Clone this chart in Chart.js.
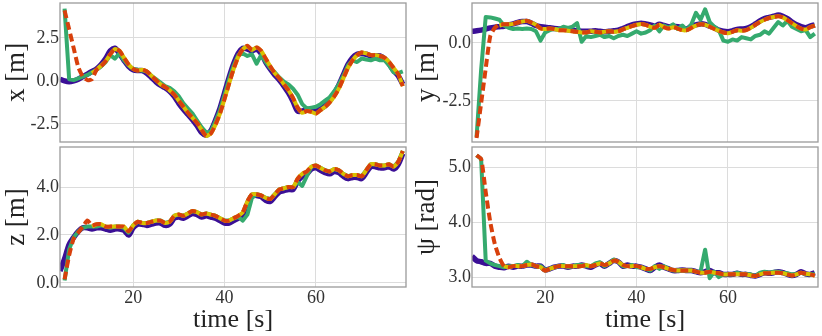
<!DOCTYPE html>
<html>
<head>
<meta charset="utf-8">
<script src="https://cdn.jsdelivr.net/npm/chart.js@4.4.1/dist/chart.umd.min.js"></script>
<style>
  html, body { margin: 0; padding: 0; background: #fff; }
  #wrap { position: relative; width: 822px; height: 336px; }
  canvas { position: absolute; }
</style>
</head>
<body>
<div id="wrap">
  <canvas id="cx" width="410" height="145" style="left:0;top:0"></canvas>
  <canvas id="cy" width="412" height="145" style="left:410px;top:0"></canvas>
  <canvas id="cz" width="410" height="191" style="left:0;top:145px"></canvas>
  <canvas id="cpsi" width="412" height="191" style="left:410px;top:145px"></canvas>
</div>
<script>
// --- Data (time in s, one sample per second) ---
const time = [4,5,6,7,8,9,10,11,12,13, 14,15,16,17,18,19,20,21,22,23, 24,25,26,27,28,29,30,31,32,33,
  34,35,36,37,38,39,40,41,42,43, 44,45,46,47,48,49,50,51,52,53, 54,55,56,57,58,59,60,61,62,63,
  64,65,66,67,68,69,70,71,72,73, 74,75,76,77,78,79];

// x [m]
const xTruth = [0.1,0.0,-0.05,0.0,0.1,0.25,0.4,0.55,0.7,0.95, 1.3,1.75,1.9,1.6,1.2,0.85,0.65,0.6,0.6,0.45,
  0.2,-0.05,-0.25,-0.4,-0.6,-0.9,-1.3,-1.65,-1.95,-2.25, -2.6,-3.0,-3.15,-2.9,-2.3,-1.6,-0.7,0.2,1.0,1.6,
  1.9,1.85,1.75,1.85,1.6,1.1,0.7,0.35,0.05,-0.3, -0.7,-1.2,-1.75,-1.75,-1.65,-1.7,-1.75,-1.6,-1.45,-1.15,
  -0.75,-0.25,0.35,0.95,1.35,1.55,1.6,1.55,1.45,1.45, 1.45,1.3,1.0,0.6,0.3,-0.2];
const xMeas = [null,4.2,0.1,0.05,0.15,0.25,0.35,0.5,0.65,0.85, 1.1,1.5,1.3,1.6,1.2,0.9,0.7,0.65,0.6,0.55,
  0.3,0.1,-0.1,-0.3,-0.4,-0.6,-0.9,-1.3,-1.6,-1.9, -2.3,-2.7,-3.0,-2.95,-2.35,-1.7,-0.8,0.1,0.9,1.5,
  1.6,1.45,1.55,1.0,1.5,1.1,0.75,0.5,0.2,-0.05, -0.2,-0.45,-0.8,-1.35,-1.6,-1.55,-1.5,-1.35,-1.15,-0.95,
  -0.6,-0.2,0.3,0.9,1.2,1.1,1.3,1.25,1.2,1.3, 1.2,1.2,0.9,0.5,0.45,0.55];
const xEstA = [null,null,null,null,null,null,null,0.45,0.65,0.9, 1.15,1.55,1.85,1.75,1.35,0.95,0.7,0.6,0.65,0.55,
  0.3,0.05,-0.2,-0.35,-0.55,-0.8,-1.15,-1.5,-1.85,-2.15, -2.45,-2.85,-3.2,-3.05,-2.55,-1.9,-1.05,-0.15,0.7,1.4,
  1.85,2.0,1.8,1.95,1.75,1.3,0.85,0.45,0.15,-0.2, -0.55,-1.0,-1.55,-1.85,-1.75,-1.8,-1.9,-1.7,-1.5,-1.25,
  -0.9,-0.45,0.15,0.75,1.2,1.5,1.65,1.6,1.5,1.5, 1.45,1.35,1.1,0.75,0.4,-0.3];
const xEstB = [null,4.1,3.0,1.9,0.8,0.25,0.05,0.1,0.65,0.85, 1.15,1.55,1.85,1.75,1.35,0.95,0.7,0.6,0.65,0.55,
  0.3,0.05,-0.2,-0.35,-0.55,-0.8,-1.15,-1.5,-1.85,-2.15, -2.45,-2.85,-3.2,-3.05,-2.55,-1.9,-1.05,-0.15,0.7,1.4,
  1.85,2.05,1.8,1.95,1.75,1.3,0.85,0.45,0.15,-0.2, -0.55,-1.0,-1.55,-1.85,-1.75,-1.8,-1.9,-1.7,-1.5,-1.25,
  -0.9,-0.45,0.15,0.75,1.2,1.5,1.65,1.6,1.5,1.5, 1.45,1.35,1.1,0.75,0.4,-0.3];

// y [m]
const yTruth = [0.5,0.52,0.55,0.6,0.65,0.68,0.7,0.72,0.78,0.82, 0.88,0.92,0.92,0.85,0.75,0.7,0.68,0.65,0.62,0.6,
  0.6,0.57,0.55,0.52,0.5,0.5,0.5,0.52,0.5,0.48, 0.5,0.52,0.55,0.62,0.7,0.78,0.82,0.85,0.82,0.78,
  0.72,0.8,0.75,0.7,0.72,0.7,0.65,0.6,0.72,0.78, 0.82,0.8,0.72,0.65,0.55,0.5,0.48,0.52,0.58,0.6,
  0.62,0.7,0.82,0.95,1.05,1.1,1.15,1.2,1.15,1.05, 0.9,0.78,0.7,0.65,0.72,0.78];
const yMeas = [null,-4.05,-1.15,1.12,1.1,1.05,1.0,0.75,0.65,0.6, 0.62,0.6,0.62,0.6,0.5,0.1,0.45,0.55,0.6,0.6,
  0.7,0.65,0.7,0.85,0.05,0.3,0.25,0.3,0.35,0.25, 0.3,0.2,0.3,0.35,0.3,0.4,0.5,0.4,0.45,0.55,
  0.75,0.5,0.75,0.65,0.8,0.6,0.75,0.55,0.8,1.3, 1.0,1.45,0.9,0.7,0.55,0.1,0.05,0.15,0.1,0.25,
  0.2,0.15,0.3,0.35,0.5,0.4,0.65,0.9,0.75,0.95, 0.7,0.6,0.5,0.55,0.25,0.4];
const yEstA = [null,null,null,null,null,null,0.75,0.8,0.8,0.82, 0.88,0.92,0.95,0.88,0.78,0.62,0.6,0.62,0.6,0.55,
  0.55,0.52,0.5,0.48,0.45,0.45,0.5,0.48,0.45,0.48, 0.5,0.48,0.5,0.58,0.65,0.72,0.78,0.82,0.78,0.7,
  0.65,0.78,0.68,0.62,0.68,0.62,0.55,0.55,0.65,0.75, 0.8,0.78,0.7,0.6,0.52,0.45,0.42,0.48,0.55,0.52,
  0.55,0.65,0.78,0.9,1.0,1.08,1.12,1.15,1.1,0.98, 0.85,0.72,0.62,0.58,0.68,0.75];
const yEstB = [null,-4.1,-2.6,-1.1,0.3,0.65,0.8,0.8,0.8,0.82, 0.88,0.92,0.95,0.88,0.78,0.62,0.6,0.62,0.6,0.55,
  0.55,0.52,0.5,0.48,0.45,0.45,0.5,0.48,0.45,0.48, 0.5,0.48,0.5,0.58,0.65,0.72,0.78,0.82,0.78,0.7,
  0.65,0.78,0.68,0.62,0.68,0.62,0.55,0.55,0.65,0.75, 0.8,0.78,0.7,0.6,0.52,0.45,0.42,0.48,0.55,0.52,
  0.55,0.65,0.78,0.9,1.0,1.08,1.12,1.15,1.1,0.98, 0.85,0.72,0.62,0.58,0.68,0.75];

// z [m]
const zTruth = [0.5,1.0,1.6,1.9,2.15,2.3,2.3,2.25,2.3,2.3, 2.25,2.2,2.25,2.25,2.2,2.0,2.3,2.45,2.45,2.4,
  2.45,2.5,2.5,2.4,2.45,2.7,2.75,2.7,2.8,2.9, 2.85,2.75,2.8,2.75,2.7,2.6,2.5,2.5,2.6,2.7,
  2.85,3.3,3.65,3.65,3.6,3.45,3.4,3.6,3.8,3.85, 3.9,3.9,4.25,4.45,4.55,4.75,4.8,4.7,4.6,4.55,
  4.65,4.6,4.45,4.35,4.4,4.4,4.35,4.6,4.85,4.85, 4.8,4.8,4.85,4.75,4.95,5.4];
const zMeas = [null,0.1,1.4,1.9,2.15,2.3,2.35,2.35,2.35,2.4, 2.35,2.3,2.35,2.35,2.3,2.1,2.4,2.55,2.5,2.5,
  2.55,2.6,2.6,2.5,2.55,2.8,2.85,2.8,2.9,3.0, 2.95,2.85,2.9,2.85,2.8,2.7,2.6,2.6,2.7,2.75,
  2.6,2.85,3.55,3.7,3.65,3.55,3.5,3.7,3.9,3.95, 4.0,4.0,4.2,4.05,4.45,4.85,4.9,4.8,4.7,4.65,
  4.75,4.7,4.55,4.45,4.5,4.5,4.45,4.7,4.95,4.95, 4.9,4.9,4.95,4.85,5.05,5.5];
const zEstA = [null,null,null,null,null,null,null,2.35,2.45,2.45, 2.35,2.35,2.35,2.35,2.35,2.15,2.4,2.55,2.5,2.5,
  2.55,2.6,2.6,2.5,2.55,2.8,2.85,2.8,2.9,3.0, 2.95,2.85,2.9,2.85,2.8,2.7,2.6,2.6,2.7,2.8,
  2.95,3.4,3.7,3.7,3.65,3.55,3.5,3.7,3.9,3.95, 4.0,4.0,4.35,4.55,4.65,4.85,4.9,4.8,4.7,4.65,
  4.75,4.7,4.55,4.45,4.5,4.5,4.45,4.7,4.95,4.95, 4.9,4.9,4.95,4.85,5.05,5.5];
const zEstB = [null,0.15,1.15,1.85,2.1,2.35,2.6,2.4,2.45,2.45, 2.35,2.35,2.35,2.35,2.35,2.15,2.4,2.55,2.5,2.5,
  2.55,2.6,2.6,2.5,2.55,2.8,2.85,2.8,2.9,3.0, 2.95,2.85,2.9,2.85,2.8,2.7,2.6,2.6,2.7,2.8,
  2.95,3.4,3.7,3.7,3.65,3.55,3.5,3.7,3.9,3.95, 4.0,4.0,4.35,4.55,4.65,4.85,4.9,4.8,4.7,4.65,
  4.75,4.7,4.55,4.45,4.5,4.5,4.45,4.7,4.95,4.95, 4.9,4.9,4.95,4.85,5.05,5.5];

// psi [rad]
const psiTruth = [3.38,3.3,3.28,3.25,3.25,3.2,3.18,3.17,3.2,3.18, 3.2,3.2,3.22,3.22,3.2,3.2,3.13,3.15,3.18,3.2,
  3.2,3.18,3.2,3.2,3.22,3.2,3.18,3.22,3.25,3.2, 3.25,3.3,3.28,3.2,3.22,3.2,3.2,3.18,3.15,3.12,
  3.18,3.22,3.18,3.15,3.12,3.12,3.13,3.12,3.12,3.1, 3.08,3.1,3.12,3.08,3.08,3.05,3.05,3.05,3.07,3.05,
  3.05,3.03,3.02,3.05,3.08,3.07,3.08,3.1,3.08,3.05, 3.03,3.05,3.1,3.06,3.05,3.08];
const psiMeas = [null,5.22,5.15,3.3,3.25,3.22,3.2,3.18,3.2,3.2, 3.22,3.2,3.28,3.22,3.2,3.2,3.13,3.15,3.18,3.2,
  3.22,3.18,3.2,3.22,3.22,3.2,3.2,3.25,3.27,3.2, 3.25,3.32,3.28,3.2,3.2,3.22,3.18,3.18,3.15,3.12,
  3.2,3.15,3.2,3.15,3.12,3.12,3.13,3.12,3.12,3.1, 3.1,3.5,2.98,3.1,3.0,3.05,3.05,3.05,3.08,3.06,
  3.05,3.05,3.02,3.08,3.1,3.08,3.1,3.1,3.08,3.07, 3.05,3.05,3.08,3.05,3.05,3.05];
const psiEstA = [null,null,null,null,null,null,null,3.2,3.18,3.2, 3.2,3.2,3.22,3.23,3.2,3.18,3.12,3.15,3.18,3.2,
  3.2,3.2,3.2,3.2,3.2,3.22,3.2,3.22,3.25,3.22, 3.25,3.3,3.28,3.22,3.2,3.2,3.2,3.18,3.15,3.15,
  3.18,3.2,3.18,3.15,3.13,3.12,3.12,3.12,3.12,3.1, 3.08,3.08,3.1,3.08,3.07,3.05,3.05,3.05,3.05,3.05,
  3.05,3.03,3.02,3.05,3.07,3.07,3.08,3.08,3.07,3.05, 3.03,3.05,3.08,3.06,3.05,3.03];
const psiEstB = [null,5.22,5.15,4.55,4.0,3.6,3.35,3.2,3.18,3.2, 3.2,3.2,3.22,3.23,3.2,3.18,3.12,3.15,3.18,3.2,
  3.2,3.2,3.2,3.2,3.2,3.22,3.2,3.22,3.25,3.22, 3.25,3.3,3.28,3.22,3.2,3.2,3.2,3.18,3.15,3.15,
  3.18,3.2,3.18,3.15,3.13,3.12,3.12,3.12,3.12,3.1, 3.08,3.08,3.1,3.08,3.07,3.05,3.05,3.05,3.05,3.05,
  3.05,3.03,3.02,3.05,3.07,3.07,3.08,3.08,3.07,3.05, 3.03,3.05,3.08,3.06,3.05,3.03];

const timeTicks = [20, 40, 60];
const xTicks = [-2.5, 0.0, 2.5];
const yTicks = [-2.5, 0.0];
const zTicks = [0.0, 2.0, 4.0];
const psiTicks = [3.0, 4.0, 5.0];

// --- Styling ---
const SERIF = "'Liberation Serif', 'DejaVu Serif', serif";
const C_TRUTH = '#3b0f96', C_MEAS = '#35aa6e', C_EST_A = '#d9c000', C_EST_B = '#d8400c';

const framePlugin = {
    id: 'frame',
    afterDraw(chart) {
        const a = chart.chartArea, ctx = chart.ctx;
        ctx.save();
        ctx.strokeStyle = '#9a9a9a'; ctx.lineWidth = 1.3;
        ctx.strokeRect(a.left, a.top, a.right - a.left, a.bottom - a.top);
        ctx.restore();
    }
};

function pts(vals) { return time.map((t, i) => ({ x: t, y: vals[i] })); }

function ds(vals, color, width, dash, order, tension) {
    return { data: pts(vals), borderColor: color, borderWidth: width, borderDash: dash, order: order,
             tension: tension, pointRadius: 0, fill: false, spanGaps: false, borderCapStyle: 'butt', borderJoinStyle: 'round' };
}

// no extra room for edge tick labels: the plot areas must line up exactly
function noPad(s) { s.paddingTop = 0; s.paddingBottom = 0; s.paddingLeft = 0; s.paddingRight = 0; }

function makePanel(id, series, yMin, yMax, yTickVals, yTitle, yWidth, showTime) {
    const [truth, meas, estA, estB] = series;
    new Chart(document.getElementById(id), {
        type: 'line',
        data: { datasets: [
            ds(estB, C_EST_B, 4, [8, 4], 0, 0.2),
            ds(estA, C_EST_A, 4, [], 1, 0.2),
            ds(meas, C_MEAS, 4, [], 2, 0),
            ds(truth, C_TRUTH, 5.5, [], 3, 0.3)
        ]},
        options: {
            responsive: false, animation: false,
            layout: { padding: { top: showTime ? 2 : 3, right: 4, bottom: showTime ? 0 : 3, left: 0 } },
            plugins: { legend: { display: false }, tooltip: { enabled: false } },
            scales: {
                x: {
                    type: 'linear', min: 4, max: 79.7,
                    afterBuildTicks: s => { s.ticks = timeTicks.map(v => ({ value: v })); },
                    afterFit: s => { s.height = showTime ? 49 : 0; noPad(s); },
                    grid: { color: '#dcdcdc', lineWidth: 1, drawTicks: false },
                    border: { display: false },
                    ticks: { display: showTime, font: { family: SERIF, size: 18 }, color: '#333', padding: 0, maxRotation: 0 },
                    title: { display: showTime, text: 'time [s]', font: { family: SERIF, size: 26 }, color: '#222', padding: { top: 0, bottom: 0 } }
                },
                y: {
                    min: yMin, max: yMax,
                    afterBuildTicks: s => { s.ticks = yTickVals.map(v => ({ value: v })); },
                    afterFit: s => { s.width = yWidth; noPad(s); },
                    grid: { color: '#dcdcdc', lineWidth: 1, drawTicks: false },
                    border: { display: false },
                    ticks: { font: { family: SERIF, size: 18 }, color: '#333', padding: 1, callback: v => v.toFixed(1) },
                    title: { display: true, text: yTitle, font: { family: SERIF, size: 27 }, color: '#222', padding: { top: 1, bottom: 0 } }
                }
            }
        },
        plugins: [framePlugin]
    });
}

makePanel('cx', [xTruth, xMeas, xEstA, xEstB], -3.55, 4.53, xTicks, 'x [m]', 60, false);
makePanel('cy', [yTruth, yMeas, yEstA, yEstB], -4.27, 1.72, yTicks, 'y [m]', 62, false);
makePanel('cz', [zTruth, zMeas, zEstA, zEstB], -0.17, 5.67, zTicks, 'z [m]', 60, true);
makePanel('cpsi', [psiTruth, psiMeas, psiEstA, psiEstB], 2.82, 5.37, psiTicks, 'ψ [rad]', 62, true);
</script>
</body>
</html>
